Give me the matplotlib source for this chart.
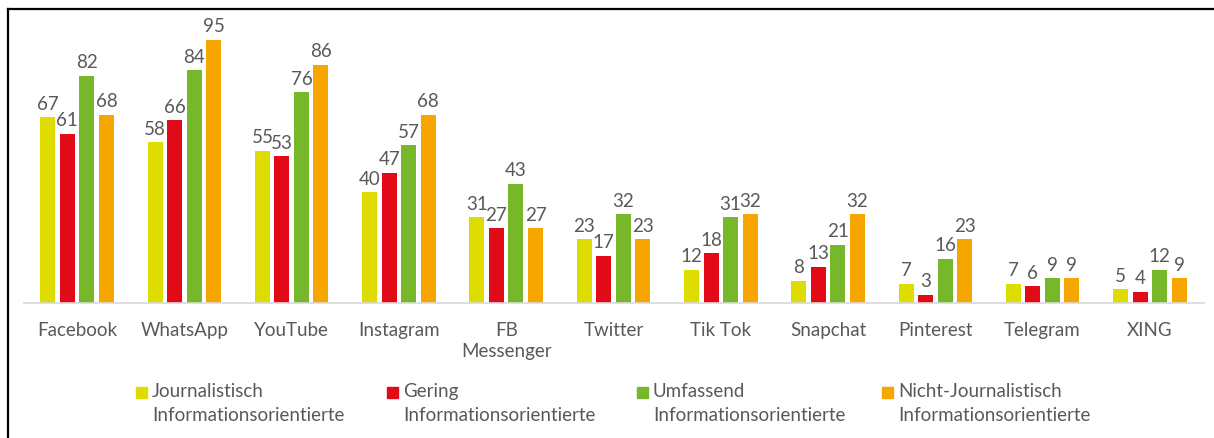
import matplotlib.pyplot as plt
import matplotlib
import numpy as np
from matplotlib.lines import Line2D
from matplotlib.patches import Rectangle

matplotlib.rcParams['font.family'] = ['Lato', 'DejaVu Sans']

categories = ['Facebook', 'WhatsApp', 'YouTube', 'Instagram', 'FB\nMessenger', 'Twitter',
              'Tik Tok', 'Snapchat', 'Pinterest', 'Telegram', 'XING']
series_names = ['Journalistisch\nInformationsorientierte',
                'Gering\nInformationsorientierte',
                'Umfassend\nInformationsorientierte',
                'Nicht-Journalistisch\nInformationsorientierte']
journalistisch = [67, 58, 55, 40, 31, 23, 12, 8, 7, 7, 5]
gering = [61, 66, 53, 47, 27, 17, 18, 13, 3, 6, 4]
umfassend = [82, 84, 76, 57, 43, 32, 31, 21, 16, 9, 12]
nicht_journ = [68, 95, 86, 68, 27, 23, 32, 32, 23, 9, 9]
colors = ['#DEDC00', '#E30A17', '#76B82A', '#F7A600']

text_color = '#595959'
fs = 13.5

fig = plt.figure(figsize=(12.14, 4.39), dpi=100)
ax = fig.add_axes([23.5 / 1214, 1 - 304 / 439, 1180 / 1214, 277 / 439])

x = np.arange(len(categories))
step = 0.182
width = 0.14
all_series = [journalistisch, gering, umfassend, nicht_journ]
for i, (vals, col) in enumerate(zip(all_series, colors)):
    bars = ax.bar(x + (i - 1.5) * step, vals, width=width, color=col)
    ax.bar_label(bars, padding=4, fontsize=fs, color=text_color)

ax.set_xlim(-0.5, len(categories) - 0.5)
ax.set_ylim(0, 100)
ax.set_xticks(x)
ax.set_xticklabels(categories, fontsize=fs, color=text_color, linespacing=1.25)
ax.tick_params(axis='x', length=0, pad=13)
ax.set_yticks([])
for s in ['top', 'right', 'left']:
    ax.spines[s].set_visible(False)
ax.spines['bottom'].set_color('#D9D9D9')
ax.spines['bottom'].set_linewidth(1.2)

# Legende von Hand, Quadrat an der ersten Zeile
W, H = 1214, 439
marker_x = [136, 387, 637, 882]
for mx, name, col in zip(marker_x, series_names, colors):
    fig.add_artist(Rectangle((mx / W, 1 - 399 / H), 11 / W, 11 / H,
                             transform=fig.transFigure, color=col))
    fig.text((mx + 16) / W, 1 - 383 / H, name, fontsize=fs, color=text_color,
             va='top', ha='left', linespacing=1.5)

# Rahmen oben und links
fig.add_artist(Line2D([7.5 / W, 1], [1 - 9.5 / H, 1 - 9.5 / H], color='black',
                      linewidth=1.6, transform=fig.transFigure))
fig.add_artist(Line2D([7.5 / W, 7.5 / W], [0, 1 - 9.5 / H], color='black',
                      linewidth=1.6, transform=fig.transFigure))

plt.savefig('out.png', dpi=100)
